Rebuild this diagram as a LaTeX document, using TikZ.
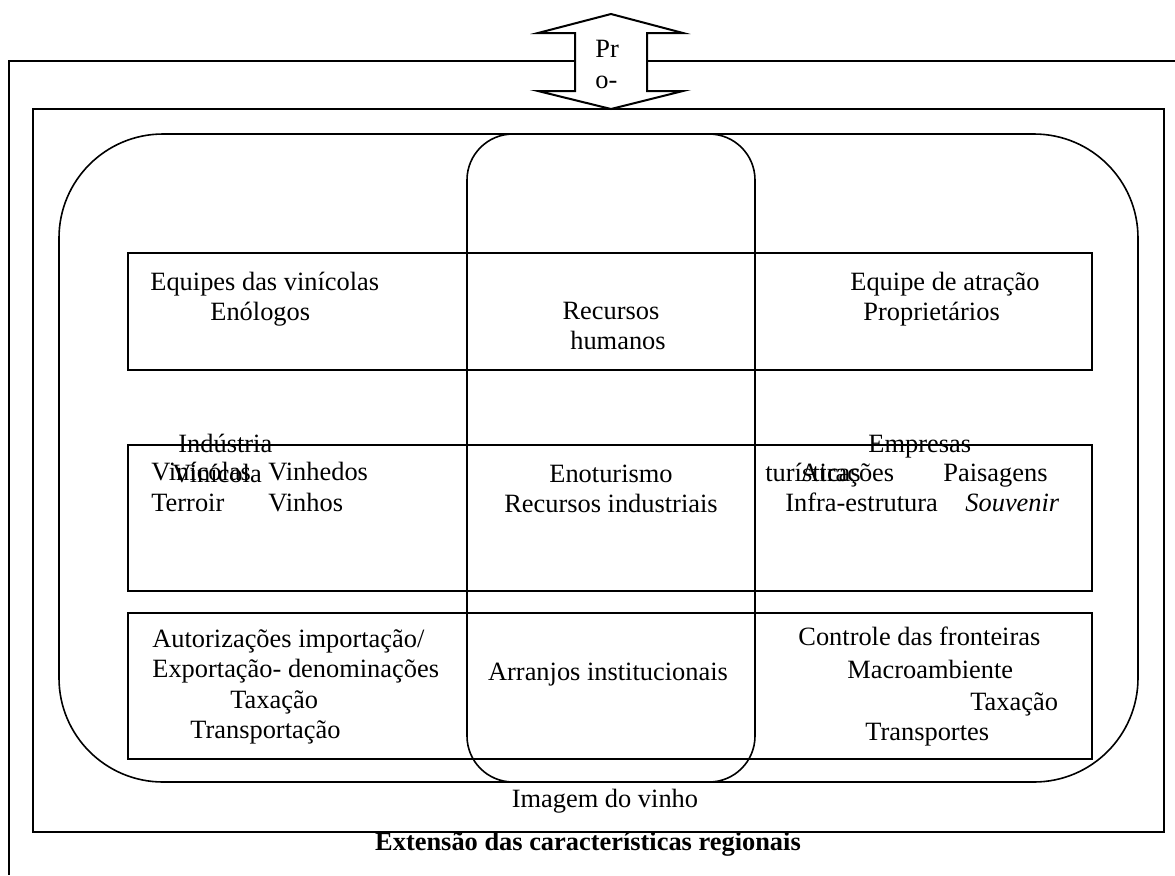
\documentclass[tikz,border=0pt]{standalone}
\usepackage{fontspec}
\setmainfont{Liberation Serif}
\begin{document}
\fontsize{13.2pt}{15.5pt}\selectfont
\begin{tikzpicture}[x=0.5pt,y=-0.5pt,
  frame/.style={draw, line width=1pt},
  boxst/.style={draw, line width=1pt, inner sep=0pt, outer sep=0pt, anchor=north west, minimum width=482pt},
  roundst/.style={draw, line width=0.8pt, inner sep=0pt, outer sep=0pt, anchor=north west},
  lbl/.style={inner sep=0pt, anchor=base west},
  clbl/.style={inner sep=0pt, anchor=base}]
\useasboundingbox (0,0) rectangle (1175,875);
% outer open frame
\coordinate (oTR) at (1175,61);
\coordinate (oTL) at (9,61);
\coordinate (oBL) at (9,875);
\draw[frame] (oTR) -- (oTL) -- (oBL);
% double arrow
\draw[line width=1pt, fill=white, line join=miter]
  (611,14) -- (683,33) -- (647,33) -- (647,91) -- (683,91) -- (611,109)
  -- (538,91) -- (575,91) -- (575,33) -- (538,33) -- cycle;
\node[lbl] (pr) at (595,57) {Pr};
\node[lbl] (po) at (595,88) {o-};
% inner frame
\node[draw, line width=1pt, inner sep=0pt, outer sep=0pt, anchor=north west,
  minimum width=565.5pt, minimum height=361.5pt] (inner) at (33,109) {};
% rounded shapes
\node[roundst, rounded corners=52pt, minimum width=539.5pt, minimum height=324pt] (big) at (59,134) {};
\node[roundst, rounded corners=23pt, minimum width=144pt, minimum height=324pt] (mid) at (467,134) {};
% row boxes
\node[boxst, minimum height=58.5pt] (b1) at (128,253) {};
\node[boxst, minimum height=73pt] (b2) at (128,445) {};
\node[boxst, minimum height=73pt] (b3) at (128,613) {};
% row 1 texts
\node[lbl] (t1a) at (150,290) {Equipes das vinícolas};
\node[lbl] (t1b) at (210,320) {Enólogos};
\node[clbl] (t1c) at (611,319) {Recursos};
\node[clbl] (t1d) at (618,349) {humanos};
\node[lbl] (t1e) at (850,290) {Equipe de atração};
\node[lbl] (t1f) at (863,320) {Proprietários};
% row 2 texts
\node[lbl] (t2a) at (178,452) {Indústria};
\node[lbl] (t2b) at (172,482) {Vinícola};
\node[lbl] (t2c) at (151,480) {Vinícolas};
\node[lbl] (t2d) at (268,480) {Vinhedos};
\node[lbl] (t2e) at (151,511) {Terroir};
\node[lbl] (t2f) at (268,511) {Vinhos};
\node[clbl] (t2g) at (611,482) {Enoturismo};
\node[clbl] (t2h) at (611,512) {Recursos industriais};
\node[lbl] (t2i) at (868,452) {Empresas};
\node[lbl] (t2j) at (765,481) {turísticas};
\node[lbl] (t2k) at (800,481) {Atrações};
\node[lbl] (t2l) at (943,481) {Paisagens};
\node[lbl] (t2m) at (785,511) {Infra-estrutura};
\node[lbl] (t2n) at (965,511) {\itshape Souvenir};
% row 3 texts
\node[lbl] (t3a) at (152,647) {Autorizações importação/};
\node[lbl] (t3b) at (152,677) {Exportação- denominações};
\node[lbl] (t3c) at (230,708) {Taxação};
\node[lbl] (t3d) at (190,738) {Transportação};
\node[clbl] (t3e) at (608,680) {Arranjos institucionais};
\node[lbl] (t3f) at (798,645) {Controle das fronteiras};
\node[lbl] (t3g) at (847,678) {Macroambiente};
\node[lbl] (t3h) at (970,710) {Taxação};
\node[lbl] (t3i) at (865,740) {Transportes};
% bottom texts
\node[clbl] (img) at (605,807) {Imagem do vinho};
\node[clbl] (ext) at (588,850) {\bfseries Extensão das características regionais};
\end{tikzpicture}
\end{document}
